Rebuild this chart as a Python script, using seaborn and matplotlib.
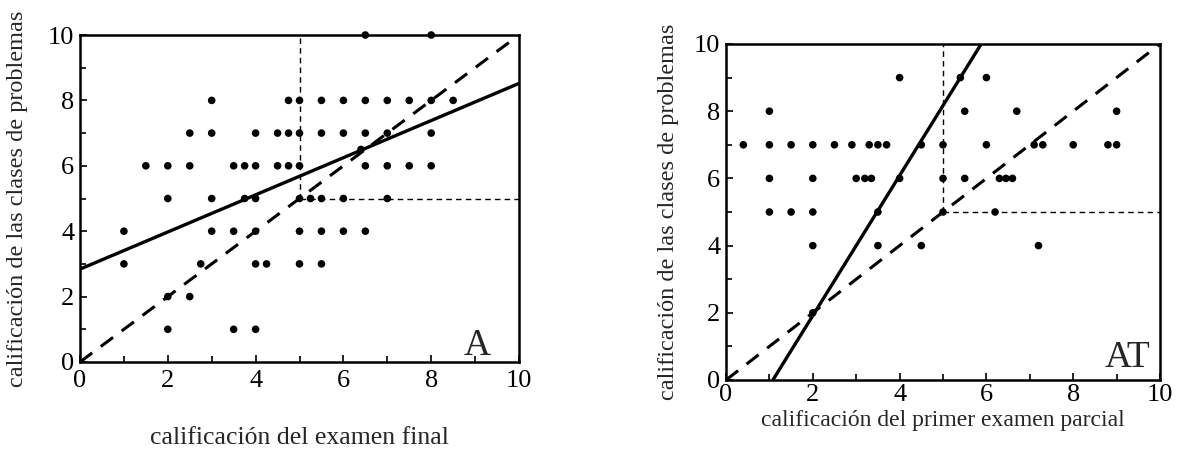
import numpy as np
import pandas as pd
import matplotlib
matplotlib.use("Agg")
import matplotlib.pyplot as plt
import seaborn as sns

# ---- Panel A data: (examen final, clases de problemas)
a_x = [3, 4.75, 5, 5.5, 6, 6.5, 7, 7.5, 8, 8.5,
       2.5, 3, 4, 4.5, 4.75, 5, 5.5, 6, 6.5, 7, 8,
       1.5, 2, 2.5, 3.5, 3.75, 4, 4.5, 4.75, 5, 6.5, 7, 7.5, 8, 6.4,
       2, 3, 3.75, 4, 5, 5.25, 5.5, 6, 7,
       1, 3, 3.5, 4, 5, 5.5, 6, 6.5,
       1, 2.75, 4, 4.25, 5, 5.5,
       2, 2.5,
       2, 3.5, 4,
       6.5, 8]
a_y = [8, 8, 8, 8, 8, 8, 8, 8, 8, 8,
       7, 7, 7, 7, 7, 7, 7, 7, 7, 7, 7,
       6, 6, 6, 6, 6, 6, 6, 6, 6, 6, 6, 6, 6, 6.5,
       5, 5, 5, 5, 5, 5, 5, 5, 5,
       4, 4, 4, 4, 4, 4, 4, 4,
       3, 3, 3, 3, 3, 3,
       2, 2,
       1, 1, 1,
       10, 10]

# ---- Panel AT data: (primer examen parcial, clases de problemas)
at_x = [4, 5.4, 6,
        1, 5.5, 6.7, 9,
        0.4, 1, 1.5, 2, 2.5, 2.9, 3.3, 3.5, 3.7, 4.5, 5, 6, 7.1, 7.3, 8, 8.8, 9,
        1, 2, 3, 3.2, 3.35, 4, 5, 5.5, 6.3, 6.45, 6.6,
        1, 1.5, 2, 3.5, 5, 6.2,
        2, 3.5, 4.5, 7.2,
        2]
at_y = [9, 9, 9,
        8, 8, 8, 8,
        7, 7, 7, 7, 7, 7, 7, 7, 7, 7, 7, 7, 7, 7, 7, 7, 7,
        6, 6, 6, 6, 6, 6, 6, 6, 6, 6, 6,
        5, 5, 5, 5, 5, 5,
        4, 4, 4, 4,
        2]

# reference / fitted lines
diag_x = [0, 10]
diag_y = [0, 10]
fit_a_x = [0, 10]
fit_a_y = [2.84, 8.52]
fit_at_x = [1.08, 5.88]
fit_at_y = [0, 10]
cut_vx = [5, 5]
cut_vy = [5, 10]
cut_hx = [5, 10]
cut_hy = [5, 5]

x_labels = ["calificación del examen final", "calificación del primer examen parcial"]
y_label = "calificación de las clases de problemas"
panel_tags = ["A", "AT"]
ticks = [0, 2, 4, 6, 8, 10]

sns.set_style("ticks")
plt.rcParams["font.family"] = ["Liberation Serif", "DejaVu Serif"]
plt.rcParams["mathtext.fontset"] = "stix"

fig = plt.figure(figsize=(11.83, 4.53), dpi=100)
ax1 = fig.add_axes([80/1183, 91/453, 439/1183, 327/453])
ax2 = fig.add_axes([726/1183, 73/453, 434/1183, 336/453])

datasets = [(a_x, a_y, fit_a_x, fit_a_y), (at_x, at_y, fit_at_x, fit_at_y)]
label_y = [-0.2, -0.088]
xlab_size = [18.5, 17]
xpad = [6, 3]
ypad = [4, 4]
ylab_x = [-0.118, -0.108]
tag_pos = [(0.935, 0.022), (0.977, 0.04)]

for i, (ax, (px, py, fx, fy)) in enumerate(zip([ax1, ax2], datasets)):
    df = pd.DataFrame({"x": px, "y": py})
    ax.plot(diag_x, diag_y, color="black", lw=2.2, dashes=(5, 3.5), zorder=2)
    ax.plot(fx, fy, color="black", lw=2.4, solid_capstyle="butt", zorder=2)
    ax.plot(cut_vx, cut_vy, color="black", lw=1.0, dashes=(4, 3), zorder=2)
    ax.plot(cut_hx, cut_hy, color="black", lw=1.0, dashes=(4, 3), zorder=2)
    sns.scatterplot(data=df, x="x", y="y", ax=ax, color="black", s=30,
                    linewidth=0, edgecolor="none", zorder=3, clip_on=False)
    ax.set_xlim(0, 10)
    ax.set_ylim(0, 10)
    ax.set_xticks(ticks)
    ax.set_yticks(ticks)
    ax.set_xticks(range(0, 11), minor=True)
    ax.set_yticks(range(0, 11), minor=True)
    ax.tick_params(which="both", direction="in", length=5, width=1.2,
                   labelsize=19, colors="black")
    ax.tick_params(axis="x", which="both", pad=xpad[i])
    ax.tick_params(axis="y", which="both", pad=ypad[i])
    ax.tick_params(which="minor", length=4)
    for s in ax.spines.values():
        s.set_visible(True)
        s.set_linewidth(1.8)
        s.set_color("black")
    ax.set_xlabel(x_labels[i], fontsize=xlab_size[i])
    ax.set_ylabel(y_label, fontsize=17.5)
    ax.xaxis.set_label_coords(0.5, label_y[i])
    ax.yaxis.set_label_coords(ylab_x[i], 0.5)
    ax.text(tag_pos[i][0], tag_pos[i][1], panel_tags[i], transform=ax.transAxes,
            ha="right", va="baseline", fontsize=27)

fig.savefig("out.png", dpi=100)
